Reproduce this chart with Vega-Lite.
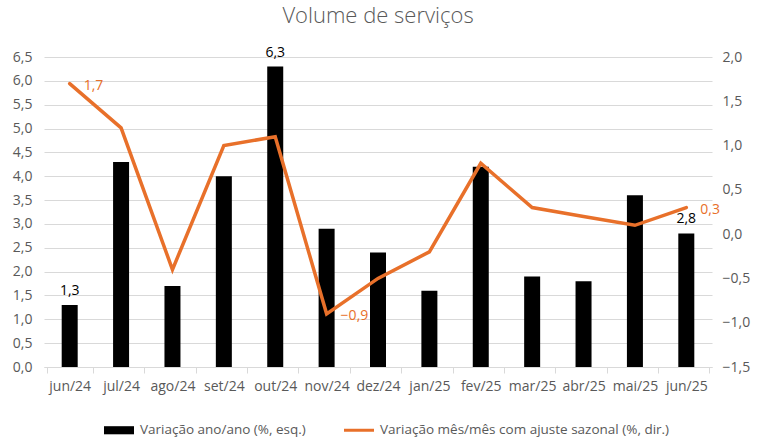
{
  "$schema": "https://vega.github.io/schema/vega-lite/v6.json",
  "autosize": {"type": "none"},
  "padding": {"left": 44, "top": 57, "right": 48, "bottom": 72},
  "width": 668,
  "height": 310,
  "background": "white",
  "title": {
    "text": "Volume de serviços",
    "anchor": "middle",
    "font": "Open Sans",
    "fontSize": 22,
    "fontWeight": 300,
    "color": "#595959",
    "offset": 18
  },
  "config": {
    "view": {"stroke": null},
    "font": "Open Sans",
    "axis": {"labelFont": "Open Sans", "labelFontSize": 14, "labelColor": "#595959", "titleFont": "Open Sans", "labelOverlap": false},
    "legend": {"labelFont": "Open Sans", "labelFontSize": 13.5, "labelColor": "#595959", "labelLimit": 400}
  },
  "data": {
    "values": [
      {"mes": "jun/24", "ano": 1.3, "mensal": 1.7},
      {"mes": "jul/24", "ano": 4.3, "mensal": 1.2},
      {"mes": "ago/24", "ano": 1.7, "mensal": -0.4},
      {"mes": "set/24", "ano": 4.0, "mensal": 1.0},
      {"mes": "out/24", "ano": 6.3, "mensal": 1.1},
      {"mes": "nov/24", "ano": 2.9, "mensal": -0.9},
      {"mes": "dez/24", "ano": 2.4, "mensal": -0.5},
      {"mes": "jan/25", "ano": 1.6, "mensal": -0.2},
      {"mes": "fev/25", "ano": 4.2, "mensal": 0.8},
      {"mes": "mar/25", "ano": 1.9, "mensal": 0.3},
      {"mes": "abr/25", "ano": 1.8, "mensal": 0.2},
      {"mes": "mai/25", "ano": 3.6, "mensal": 0.1},
      {"mes": "jun/25", "ano": 2.8, "mensal": 0.3}
    ]
  },
  "encoding": {
    "x": {
      "field": "mes",
      "type": "ordinal",
      "sort": null,
      "title": null,
      "axis": {
        "labelAngle": 0,
        "labelPadding": 6,
        "domainColor": "#d9d9d9",
        "tickColor": "#d9d9d9",
        "tickBand": "extent",
        "tickSize": 6
      }
    }
  },
  "layer": [
    {
      "encoding": {
        "y": {
          "field": "ano",
          "type": "quantitative",
          "title": null,
          "scale": {"domain": [0, 6.5], "nice": false},
          "axis": {
            "values": [0, 0.5, 1, 1.5, 2, 2.5, 3, 3.5, 4, 4.5, 5, 5.5, 6, 6.5],
            "labelExpr": "replace(format(datum.value, '.1f'), '.', ',')",
            "domain": false,
            "ticks": false,
            "labelPadding": 12,
            "gridColor": "#d9d9d9"
          }
        }
      },
      "layer": [
        {
          "mark": {"type": "bar", "size": 16},
          "transform": [{"calculate": "'Variação ano/ano (%, esq.)'", "as": "serie"}],
          "encoding": {
            "color": {
              "field": "serie",
              "type": "nominal",
              "scale": {
                "domain": ["Variação ano/ano (%, esq.)", "Variação mês/mês com ajuste sazonal (%, dir.)"],
                "range": ["#000000", "#E8702A"]
              },
              "legend": {
                "title": null,
                "orient": "none",
                "direction": "horizontal",
                "legendX": 60,
                "legendY": 358,
                "columnPadding": 38,
                "labelOffset": 6,
                "symbolSize": 900,
                "encode": {
                  "symbols": {
                    "update": {
                      "shape": {"signal": "datum.value === 'Variação ano/ano (%, esq.)' ? 'M-1,-0.27H1V0.27H-1Z' : 'M-1,-0.1H1V0.1H-1Z'"},
                      "fill": {"signal": "datum.value === 'Variação ano/ano (%, esq.)' ? '#000000' : '#E8702A'"},
                      "strokeWidth": {"value": 0},
                      "opacity": {"value": 1}
                    }
                  }
                }
              }
            }
          }
        },
        {
          "transform": [
            {"filter": "indexof(['jun/24', 'out/24', 'jun/25'], datum.mes) >= 0"},
            {"calculate": "replace(format(datum.ano, '.1f'), '.', ',')", "as": "rotulo"}
          ],
          "mark": {"type": "text", "baseline": "bottom", "dy": -7, "fontSize": 14, "color": "#000000", "font": "Open Sans"},
          "encoding": {
            "text": {"field": "rotulo", "type": "nominal"}
          }
        }
      ]
    },
    {
      "encoding": {
        "y": {
          "field": "mensal",
          "type": "quantitative",
          "title": null,
          "scale": {"domain": [-1.5, 2], "nice": false},
          "axis": {
            "orient": "right",
            "values": [-1.5, -1, -0.5, 0, 0.5, 1, 1.5, 2],
            "labelExpr": "replace(format(datum.value, '.1f'), '.', ',')",
            "domain": false,
            "ticks": false,
            "grid": false,
            "labelPadding": 10
          }
        }
      },
      "layer": [
        {
          "mark": {"type": "line", "strokeWidth": 3.5, "strokeCap": "round"},
          "transform": [{"calculate": "'Variação mês/mês com ajuste sazonal (%, dir.)'", "as": "serie"}],
          "encoding": {
            "color": {"field": "serie", "type": "nominal"}
          }
        },
        {
          "transform": [
            {"filter": "indexof(['jun/24', 'nov/24', 'jun/25'], datum.mes) >= 0"},
            {"calculate": "replace(format(datum.mensal, '.1f'), '.', ',')", "as": "rotulo"}
          ],
          "mark": {"type": "text", "align": "left", "baseline": "middle", "dx": 14, "dy": 2, "fontSize": 14, "color": "#E8702A", "font": "Open Sans"},
          "encoding": {
            "text": {"field": "rotulo", "type": "nominal"}
          }
        }
      ]
    }
  ],
  "resolve": {"scale": {"y": "independent"}}
}
